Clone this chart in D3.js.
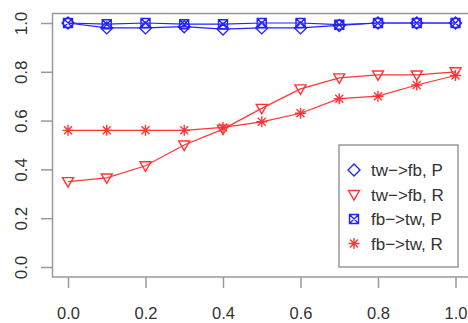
<!DOCTYPE html>
<html>
<head>
<meta charset="utf-8">
<script src="https://cdn.jsdelivr.net/npm/d3@7"></script>
<style>
  body { margin: 0; background: #fff; }
  text { font-family: "Liberation Sans", Arial, sans-serif; fill: #333; }
</style>
</head>
<body>
<div id="chart"></div>
<script>
// threshold values on x
const xs = [0, 0.1, 0.2, 0.3, 0.4, 0.5, 0.6, 0.7, 0.8, 0.9, 1.0];
const twFbP = [1.0, 0.98, 0.98, 0.985, 0.975, 0.98, 0.98, 0.99, 1.0, 1.0, 1.0];
const twFbR = [0.35, 0.365, 0.415, 0.50, 0.565, 0.65, 0.73, 0.775, 0.787, 0.787, 0.80];
const fbTwP = [1.0, 0.995, 1.0, 0.995, 0.995, 1.0, 1.0, 0.993, 1.0, 1.0, 1.0];
const fbTwR = [0.56, 0.56, 0.56, 0.56, 0.572, 0.595, 0.63, 0.69, 0.70, 0.746, 0.785];
const xTicks = [0, 0.2, 0.4, 0.6, 0.8, 1.0];
const yTicks = [0, 0.2, 0.4, 0.6, 0.8, 1.0];

const blue = "#2222ff", red = "#ff3535";

const series = [
  {name: "tw->fb, P", values: twFbP, color: blue, sym: "diamond"},
  {name: "tw->fb, R", values: twFbR, color: red, sym: "tri"},
  {name: "fb->tw, P", values: fbTwP, color: blue, sym: "boxx"},
  {name: "fb->tw, R", values: fbTwR, color: red, sym: "star"}
];

const W = 468, H = 323;
const svg = d3.select("#chart").append("svg")
    .attr("width", W).attr("height", H);

const x = d3.scaleLinear().domain([0, 1]).range([68, 455.5]);
const y = d3.scaleLinear().domain([0, 1]).range([267, 23]);

// R style plot symbols
function symPath(type, cx, cy) {
  if (type === "diamond") {
    const r = 6;
    return `M${cx},${cy - r}L${cx + r},${cy}L${cx},${cy + r}L${cx - r},${cy}Z`;
  }
  if (type === "tri") {
    const r = 5.5;
    return `M${cx - r},${cy - 4}L${cx + r},${cy - 4}L${cx},${cy + 5.5}Z`;
  }
  if (type === "boxx") {
    const r = 4.5;
    return `M${cx - r},${cy - r}h${2 * r}v${2 * r}h${-2 * r}Z` +
      `M${cx - r},${cy - r}L${cx + r},${cy + r}M${cx + r},${cy - r}L${cx - r},${cy + r}`;
  }
  // asterisk
  const r = 5.5, d = 4;
  return `M${cx - r},${cy}h${2 * r}M${cx},${cy - r}v${2 * r}` +
    `M${cx - d},${cy - d}L${cx + d},${cy + d}M${cx + d},${cy - d}L${cx - d},${cy + d}`;
}

// box
svg.append("rect")
    .attr("x", 52.5).attr("y", 13.5)
    .attr("width", 420).attr("height", 263.5)
    .attr("fill", "none").attr("stroke", "#999").attr("stroke-width", 1.5);

// axes
const xAxis = svg.append("g").attr("transform", "translate(0,277)")
    .call(d3.axisBottom(x).tickValues(xTicks).tickFormat(d3.format(".1f"))
      .tickSize(11).tickPadding(19));
xAxis.select(".domain").remove();
xAxis.selectAll("line").attr("stroke", "#999").attr("stroke-width", 1.5);
xAxis.selectAll("text").attr("font-size", 16.5).attr("fill", "#333")
    .attr("font-family", "Liberation Sans, Arial, sans-serif");

const yAxis = svg.append("g").attr("transform", "translate(53,0)")
    .call(d3.axisLeft(y).tickValues(yTicks).tickFormat(d3.format(".1f")).tickSize(12));
yAxis.select(".domain").remove();
yAxis.selectAll("line").attr("stroke", "#999").attr("stroke-width", 1.5);
yAxis.selectAll("text").remove();
yAxis.selectAll(".tick").append("text")
    .attr("transform", "translate(-26,0) rotate(-90)")
    .attr("text-anchor", "middle")
    .attr("font-size", 17)
    .attr("fill", "#333")
    .attr("font-family", "Liberation Sans, Arial, sans-serif")
    .text(d => d3.format(".1f")(d));

// lines + points
const line = d3.line().x((d, i) => x(xs[i])).y(d => y(d));
series.forEach(s => {
  svg.append("path")
      .attr("d", line(s.values))
      .attr("fill", "none").attr("stroke", s.color).attr("stroke-width", 1.2);
  svg.append("g").selectAll("path")
      .data(s.values)
      .join("path")
      .attr("d", (d, i) => symPath(s.sym, x(xs[i]), y(d)))
      .attr("fill", "none").attr("stroke", s.color).attr("stroke-width", 1.4);
});

// legend
const leg = svg.append("g");
leg.append("rect")
    .attr("x", 339).attr("y", 145).attr("width", 119).attr("height", 122)
    .attr("fill", "#fff").attr("stroke", "#999").attr("stroke-width", 1.5);
series.forEach((s, i) => {
  const cy = 170 + i * 24.5;
  leg.append("path")
      .attr("d", symPath(s.sym, 354, cy))
      .attr("fill", "none").attr("stroke", s.color).attr("stroke-width", 1.4);
  leg.append("text")
      .attr("x", 371).attr("y", cy + 6)
      .attr("font-size", 17)
      .text(s.name.replace("->", "\u2212>"));
});
</script>
</body>
</html>
